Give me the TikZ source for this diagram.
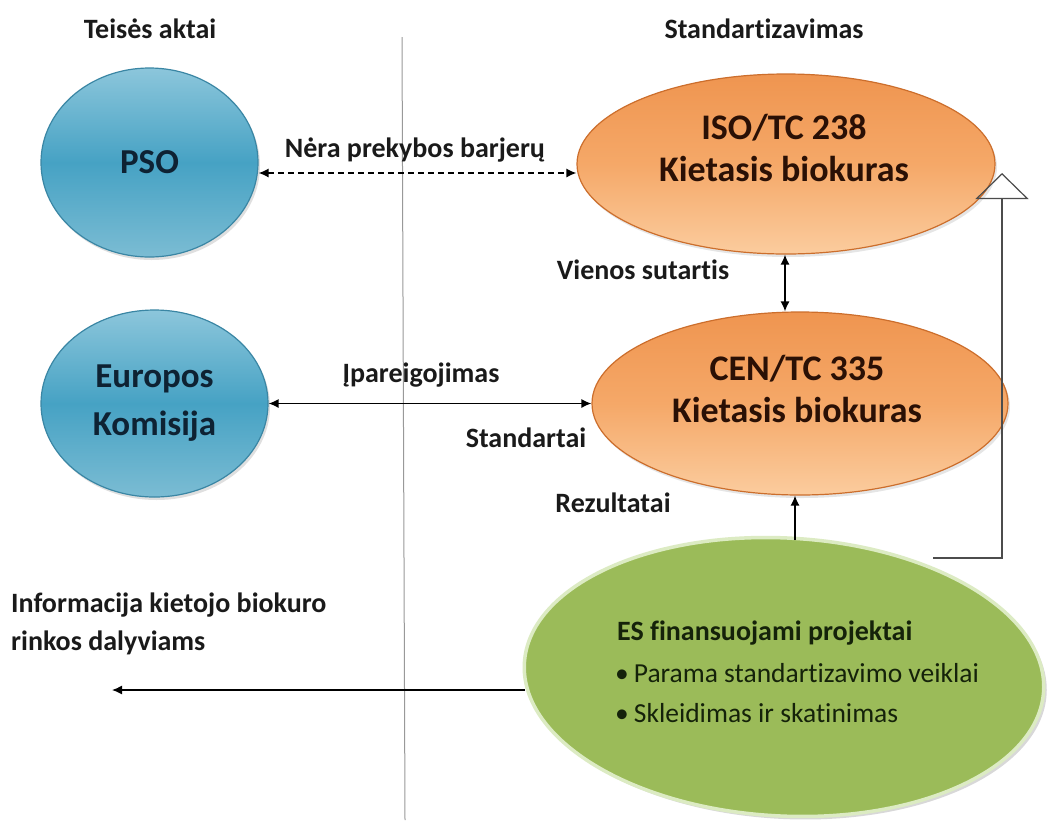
\documentclass[tikz,border=0pt]{standalone}
\usepackage{fontspec}
\setmainfont{Carlito}[Ligatures=NoCommon]
\usetikzlibrary{shapes.geometric,arrows.meta,shadows}
\definecolor{bluetop}{HTML}{8CC6DB}
\definecolor{bluemid}{HTML}{46A2C4}
\definecolor{bluebot}{HTML}{7BBCD3}
\definecolor{blueedge}{HTML}{3A86A4}
\definecolor{bluetxt}{HTML}{0E2233}
\definecolor{orgtop}{HTML}{EF9550}
\definecolor{orgmid}{HTML}{F5A868}
\definecolor{orgbot}{HTML}{FBCC9E}
\definecolor{orgedge}{HTML}{CC6E2C}
\definecolor{orgtxt}{HTML}{2A1005}
\definecolor{grn}{HTML}{9BBB59}
\definecolor{grnedge}{HTML}{DCEBC3}
\definecolor{grntxt}{HTML}{15220A}
\definecolor{txtdark}{HTML}{1A1A1A}
\begin{document}
\begin{tikzpicture}[x=1pt,y=-1pt,
  lbl/.style={font=\fontsize{28}{34}\selectfont\bfseries, text=txtdark, inner sep=0pt},
  bluenode/.style={ellipse, inner sep=0pt, minimum width=217pt, minimum height=189pt,
    draw=blueedge, line width=1.2pt, top color=bluetop, bottom color=bluebot, middle color=bluemid,
    drop shadow={opacity=0.25, shadow xshift=2pt, shadow yshift=-3pt},
    font=\fontsize{35}{48}\selectfont\bfseries, text=bluetxt, align=center},
  orgnode/.style={ellipse, inner sep=0pt, minimum width=418pt, minimum height=180pt,
    draw=orgedge, line width=1.2pt, top color=orgtop, bottom color=orgbot, middle color=orgmid,
    drop shadow={opacity=0.2, shadow xshift=2pt, shadow yshift=-3pt}},
  orgtext/.style={font=\fontsize{36}{42}\selectfont\bfseries, text=orgtxt, align=center, inner sep=0pt},
  grnnode/.style={ellipse, inner sep=0pt, minimum width=520pt, minimum height=278pt,
    draw=grnedge, line width=3.5pt, fill=grn,
    drop shadow={opacity=0.3, shadow xshift=3pt, shadow yshift=-3pt}},
  grntext/.style={anchor=west, inner sep=0pt, text=grntxt, font=\fontsize{27.5}{33}\selectfont},
  conn/.style={line width=1.3pt, draw=black, {Latex[length=10pt,width=9pt]}-{Latex[length=10pt,width=9pt]}},
  oneway/.style={line width=1.3pt, draw=black, -{Latex[length=10pt,width=9pt]}}
]
\useasboundingbox (0,0) rectangle (1052,820);
\fill[white] (0,0) rectangle (1052,820);

% divider
\coordinate (divT) at (402,37);
\coordinate (divB) at (405,820);
\draw[line width=1pt, draw=gray!80] (divT) -- (divB);

% headings
\node[lbl] (tl) at (150,29) {Teisės aktai};
\node[lbl] (st) at (764,29) {Standartizavimas};

% nodes
\node[bluenode] (pso) at (149.5,162.5) {PSO};
\node[bluenode, minimum width=227pt, minimum height=187pt] (ek) at (154.5,403.5) {Europos\\Komisija};
\node[orgnode] (iso) at (786,164) {};
\node[orgtext] (isot) at (784,148) {ISO/TC 238\\Kietasis biokuras};
\node[orgnode, minimum width=416pt, minimum height=183pt] (cen) at (800,403.5) {};
\node[orgtext] (cent) at (797,389) {CEN/TC 335\\Kietasis biokuras};
\node[grnnode, rotate=-3] (es) at (784,677) {};
\node[grntext, font=\fontsize{28}{33}\selectfont\bfseries] (esh) at (617,633) {ES finansuojami projektai};
\node[grntext] (esb1) at (615,673) {\textbullet\hspace{5pt}Parama standartizavimo veiklai};
\node[grntext] (esb2) at (615,713) {\textbullet\hspace{5pt}Skleidimas ir skatinimas};

% labels
\node[lbl] (nera) at (415,150) {Nėra prekybos barjerų};
\node[lbl] (vien) at (643,270) {Vienos sutartis};
\node[lbl] (ipar) at (421,375) {Įpareigojimas};
\node[lbl] (stand) at (526,438) {Standartai};
\node[lbl] (rez) at (613,503) {Rezultatai};
\node[lbl, anchor=west, align=left, font=\fontsize{28}{38}\selectfont\bfseries] (info) at (11,624) {Informacija kietojo biokuro\\rinkos dalyviams};

% connectors
\coordinate (psoArrow) at (0,173);
\draw[conn, dash pattern=on 6pt off 4pt] (pso.east |- psoArrow) -- (iso.west |- psoArrow);
\draw[conn] (ek.east) -- (cen.west |- ek.east);
\coordinate (vienX) at (785,0);
\draw[conn] (iso.south -| vienX) -- (cen.north -| vienX);
\coordinate (esTop) at (795,540);
\draw[oneway] (esTop) -- (cen.south -| esTop);
\coordinate (infoArrow) at (112,690);
\coordinate (esL) at (525,690);
\draw[oneway] (esL) -- (infoArrow);
\coordinate (esR) at (933,558);
\coordinate (isoTip) at (1002,173);
\draw[line width=1.3pt, draw=black!70, -{Triangle[open, length=26pt, width=53pt, line width=1.2pt]}] (esR) -| (isoTip);
\end{tikzpicture}
\end{document}
